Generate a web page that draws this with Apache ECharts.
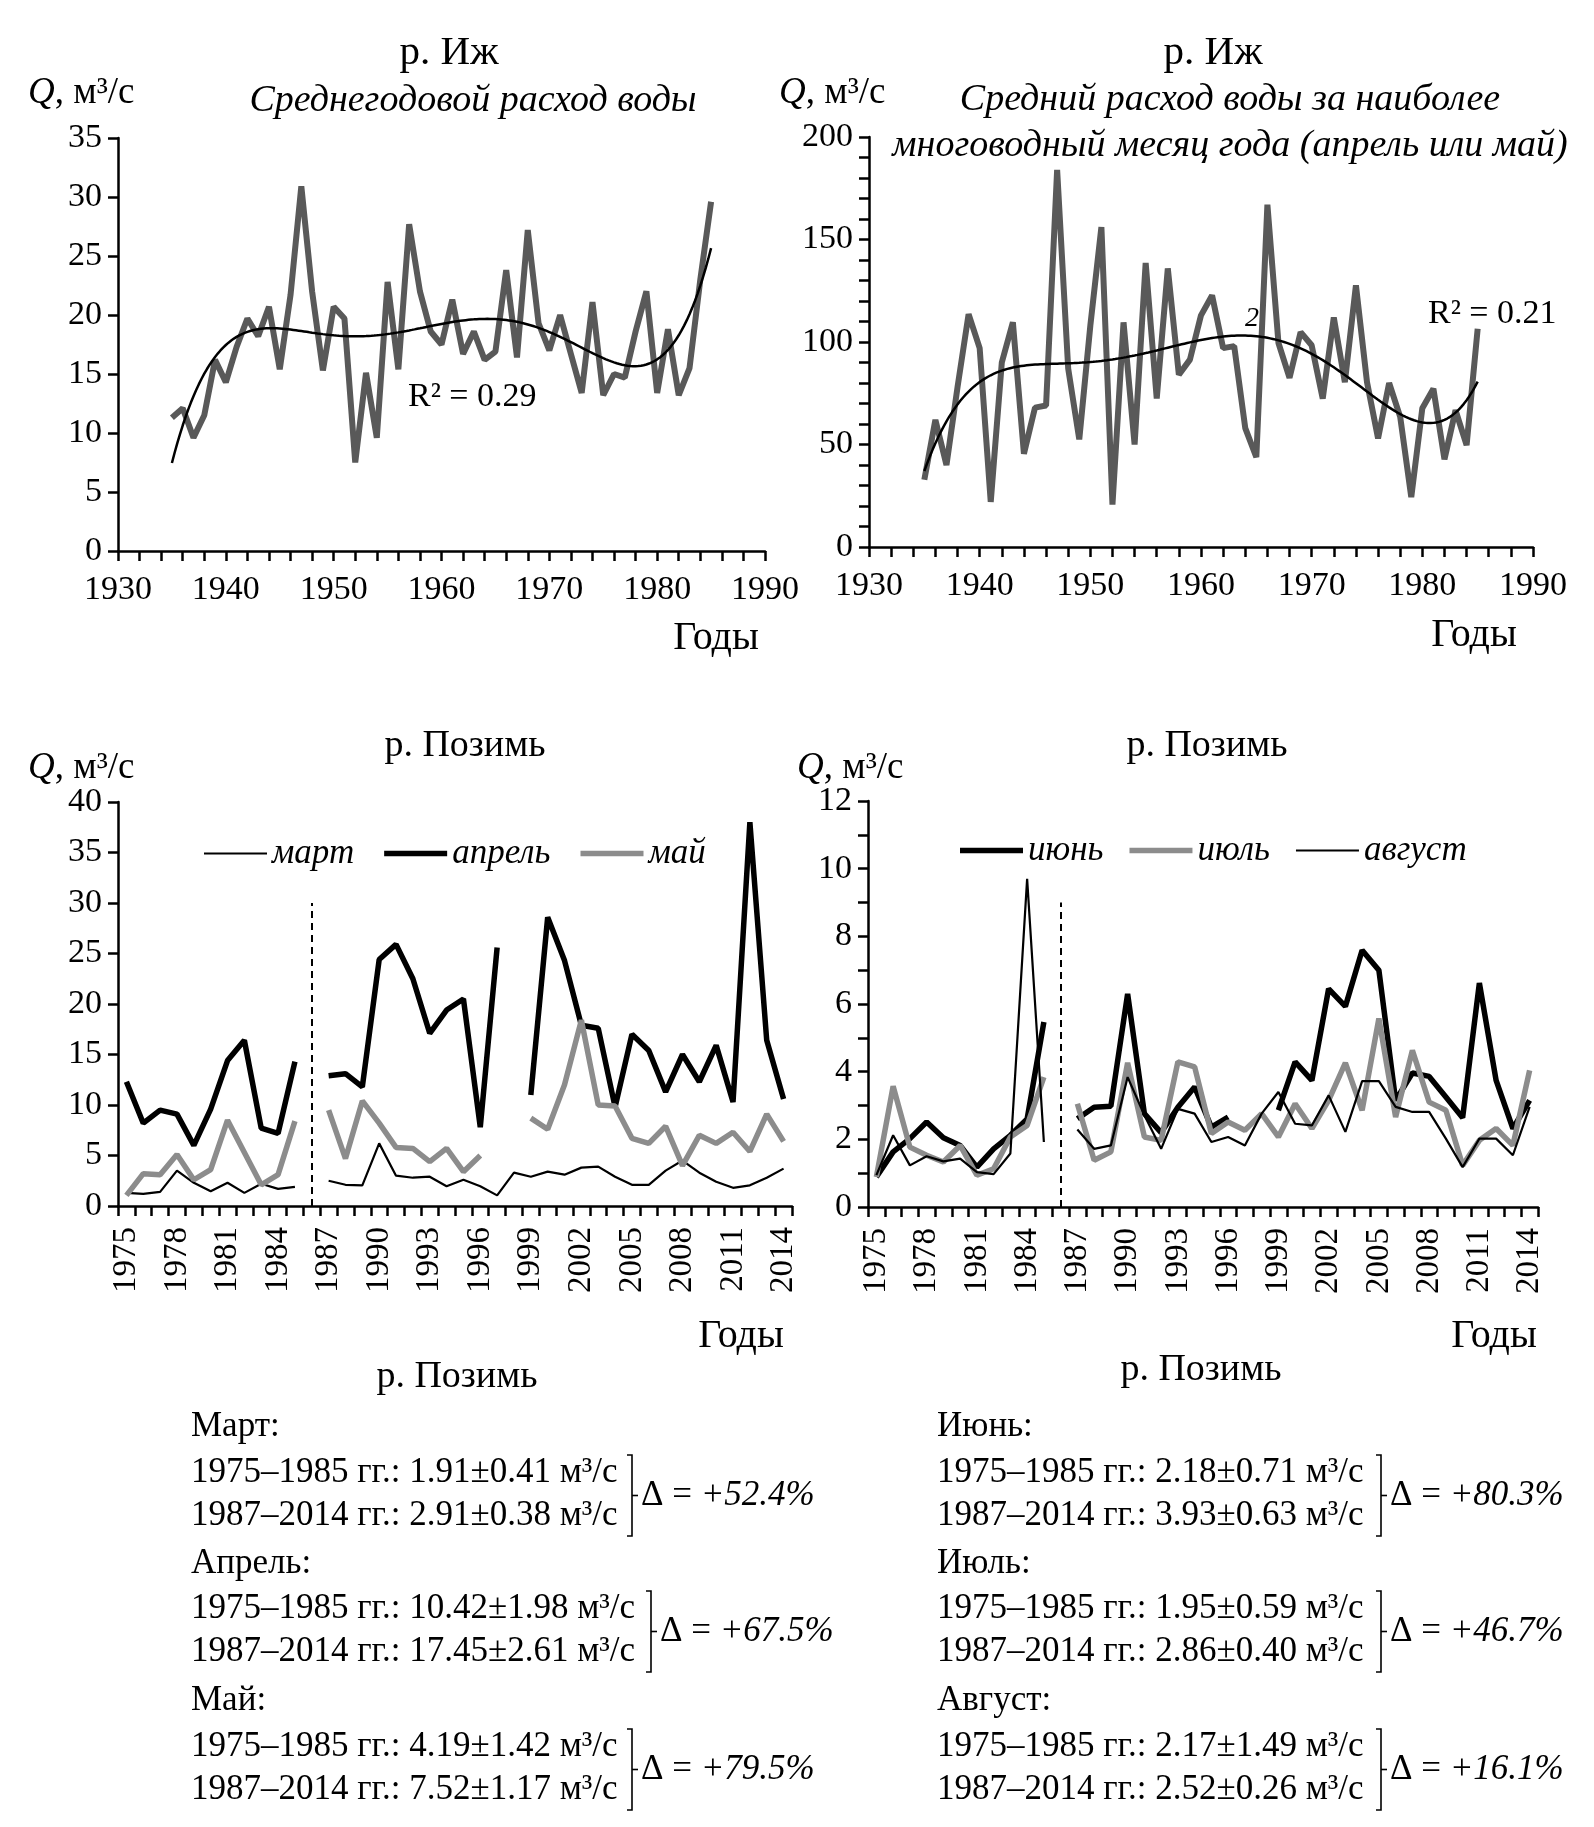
<!DOCTYPE html>
<html><head><meta charset="utf-8">
<script src="https://cdn.jsdelivr.net/npm/echarts@6/dist/echarts.min.js"></script>
<style>html,body{margin:0;padding:0;background:#fff}#c{width:1594px;height:1827px}</style>
</head><body><div id="c"></div><script>
// ---------- DATA ----------
const izhYears = [1935,1936,1937,1938,1939,1940,1941,1942,1943,1944,1945,1946,1947,1948,1949,1950,1951,1952,1953,1954,1955,1956,1957,1958,1959,1960,1961,1962,1963,1964,1965,1966,1967,1968,1969,1970,1971,1972,1973,1974,1975,1976,1977,1978,1979,1980,1981,1982,1983,1984,1985];
const izhAnnual = [11.3,12.1,9.6,11.5,16.2,14.3,17.3,19.7,18.2,20.7,15.4,21.7,30.9,22.0,15.3,20.7,19.7,7.5,15.1,9.6,22.8,15.4,27.7,22.0,18.6,17.5,21.3,16.7,18.6,16.2,16.9,23.8,16.4,27.2,19.3,17.0,20.0,16.7,13.4,21.1,13.2,15.0,14.7,18.6,22.0,13.4,18.8,13.2,15.5,23.0,29.6];
const izhMaxMonth = [32.8,62,40,78,113.6,97,22,90,109.6,45.5,68,69,184,87,52.5,108,156,20.7,109.6,50,138.6,72.4,135.9,84,91.4,113,122.7,97,98,58,43.8,167,99.5,82.5,104.8,98.4,72.4,112,80.4,127.6,80.4,53,80,63.5,24.3,67.7,77.2,42.8,66.7,49.7,106.5];

const pozYears = ['1975','1976','1977','1978','1979','1980','1981','1982','1983','1984','1985','1986','1987','1988','1989','1990','1991','1992','1993','1994','1995','1996','1997','1998','1999','2000','2001','2002','2003','2004','2005','2006','2007','2008','2009','2010','2011','2012','2013','2014'];
const mar = [1.3,1.2,1.4,3.5,2.3,1.45,2.3,1.3,2.2,1.7,1.9,null,2.5,2.1,2.05,6.2,3.0,2.8,2.9,1.95,2.6,1.95,1.05,3.3,2.9,3.4,3.1,3.8,3.9,2.9,2.1,2.1,3.5,4.5,3.3,2.4,1.8,2.05,2.8,3.7];
const apr = [12.3,8.2,9.5,9.1,6.0,9.6,14.4,16.4,7.7,7.2,14.3,null,12.9,13.1,11.8,24.4,25.9,22.5,17.1,19.4,20.5,7.8,25.6,null,11.0,28.6,24.3,17.9,17.6,9.8,17.0,15.4,11.3,15.0,12.3,15.9,10.3,38.0,16.4,10.6];
const may = [1.05,3.2,3.1,5.1,2.6,3.6,8.5,5.3,2.1,3.1,8.4,null,9.5,4.7,10.4,8.2,5.8,5.7,4.4,5.7,3.4,5.0,null,null,8.7,7.6,12.0,18.4,10.0,9.9,6.7,6.2,7.9,4.0,7.0,6.2,7.3,5.4,9.1,6.4];
const jun = [0.89,1.63,2.02,2.51,2.05,1.82,1.18,1.72,2.12,2.6,5.47,null,2.61,2.95,2.98,6.3,2.76,2.2,2.95,3.55,2.36,2.66,null,null,2.86,4.29,3.74,6.45,5.93,7.59,7.0,3.15,3.96,3.86,3.25,2.64,6.62,3.74,2.32,3.15];
const jul = [0.89,3.57,1.77,1.53,1.33,1.82,0.94,1.13,2.07,2.41,3.84,null,3.05,1.38,1.63,4.26,2.07,1.97,4.29,4.14,2.17,2.51,2.27,2.76,2.07,3.05,2.32,3.15,4.26,2.86,5.57,2.66,4.63,3.1,2.86,1.23,1.97,2.32,1.82,4.04];
const aug = [0.94,2.12,1.23,1.5,1.35,1.43,1.03,0.97,1.58,9.7,1.92,null,2.29,1.72,1.82,3.84,2.71,1.72,2.9,2.76,1.92,2.07,1.82,2.76,3.4,2.46,2.41,3.3,2.22,3.72,3.72,2.96,2.81,2.81,2.02,1.18,2.02,2.02,1.53,2.96];

const breakYear = '1986';
const leftStats = [
  ['Март:', '1975–1985 гг.: 1.91±0.41 м³/с', '1987–2014 гг.: 2.91±0.38 м³/с', '+52.4%'],
  ['Апрель:', '1975–1985 гг.: 10.42±1.98 м³/с', '1987–2014 гг.: 17.45±2.61 м³/с', '+67.5%'],
  ['Май:', '1975–1985 гг.: 4.19±1.42 м³/с', '1987–2014 гг.: 7.52±1.17 м³/с', '+79.5%']
];
const rightStats = [
  ['Июнь:', '1975–1985 гг.: 2.18±0.71 м³/с', '1987–2014 гг.: 3.93±0.63 м³/с', '+80.3%'],
  ['Июль:', '1975–1985 гг.: 1.95±0.59 м³/с', '1987–2014 гг.: 2.86±0.40 м³/с', '+46.7%'],
  ['Август:', '1975–1985 гг.: 2.17±1.49 м³/с', '1987–2014 гг.: 2.52±0.26 м³/с', '+16.1%']
];

// ---------- polynomial trend (least squares, like Excel) ----------
function polyfit(xs, ys, deg) {
  const n = deg + 1, c = 1960, s = 25;
  const M = Array.from({length: n}, () => new Array(n + 1).fill(0));
  for (let k = 0; k < xs.length; k++) {
    const t = (xs[k] - c) / s;
    const p = [];
    for (let i = 0; i < n; i++) p.push(Math.pow(t, i));
    for (let i = 0; i < n; i++) {
      for (let j = 0; j < n; j++) M[i][j] += p[i] * p[j];
      M[i][n] += p[i] * ys[k];
    }
  }
  for (let i = 0; i < n; i++) {
    let piv = i;
    for (let r = i + 1; r < n; r++) if (Math.abs(M[r][i]) > Math.abs(M[piv][i])) piv = r;
    [M[i], M[piv]] = [M[piv], M[i]];
    for (let r = 0; r < n; r++) {
      if (r === i) continue;
      const f = M[r][i] / M[i][i];
      for (let j = i; j <= n; j++) M[r][j] -= f * M[i][j];
    }
  }
  const coef = M.map((row, i) => row[n] / row[i]);
  return x => { const t = (x - c) / s; let v = 0; for (let i = n - 1; i >= 0; i--) v = v * t + coef[i]; return v; };
}
function trendPoints(xs, ys, deg) {
  const f = polyfit(xs, ys, deg), out = [];
  for (let x = xs[0]; x <= xs[xs.length - 1] + 1e-9; x += 0.25) out.push([x, f(x)]);
  return out;
}
const pair = (xs, ys) => xs.map((x, i) => [x, ys[i]]);

// ---------- styles ----------
const FF = "'Liberation Serif', 'Times New Roman', serif";
const BLK = '#000';
const GRAY = '#8c8c8c';
const axisLine = {show: true, lineStyle: {color: BLK, width: 2.5}};
const tick = {show: true, length: 10, lineStyle: {color: BLK, width: 2.5}};
const lbl = (size, extra) => Object.assign({color: BLK, fontFamily: FF, fontSize: size}, extra || {});

function valX(grid) {
  return {type: 'value', gridIndex: grid, min: 1930, max: 1990, interval: 10,
    axisLine, axisTick: tick, minorTick: {show: true, splitNumber: 5, length: 10, lineStyle: {color: BLK, width: 2.5}},
    axisLabel: lbl(34, {margin: 22, formatter: v => String(v)}), splitLine: {show: false}, minorSplitLine: {show: false}};
}
function valY(grid, max, interval, minor) {
  return {type: 'value', gridIndex: grid, min: 0, max, interval,
    axisLine, axisTick: tick,
    minorTick: {show: !!minor, splitNumber: minor || 5, length: 10, lineStyle: {color: BLK, width: 2.5}},
    axisLabel: lbl(34, {margin: 16}), splitLine: {show: false}, minorSplitLine: {show: false}};
}
function catX(grid) {
  return {type: 'category', gridIndex: grid, data: pozYears, boundaryGap: true,
    axisLine, axisTick: {show: true, interval: 0, length: 10, lineStyle: {color: BLK, width: 2.5}},
    axisLabel: lbl(33, {interval: 2, rotate: 90, margin: 21}), splitLine: {show: false}};
}
function line(name, x, y, data, color, width, extra) {
  return Object.assign({name, type: 'line', xAxisIndex: x, yAxisIndex: y, data, symbol: 'none',
    connectNulls: false, lineStyle: {color, width}, itemStyle: {color}, animation: false}, extra || {});
}
const dashMark = (top) => ({symbol: 'none', silent: true, label: {show: false},
  lineStyle: {color: BLK, type: [7, 5], width: 2},
  data: [[{coord: [breakYear, 0]}, {coord: [breakYear, top]}]]});
const THICK_ICON = 'path://M0,0H63V5.5H0Z';
const THIN_ICON = 'path://M0,0H63V2.2H0Z';

// ---------- graphic texts ----------
const g = [];
function txt(x, y, text, opt) {
  opt = opt || {};
  const size = opt.size || 34;
  g.push({type: 'text', x, y, style: {text, fill: BLK, font: (opt.italic ? 'italic ' : '') + size + 'px ' + FF,
    textAlign: opt.align || 'left', textVerticalAlign: 'middle',
    rich: {i: {fontStyle: 'italic', fontFamily: FF, fontSize: size}}}});
}
txt(449, 53, 'р. Иж', {align: 'center', size: 41});
txt(28, 93, '{i|Q}, м³/с', {size: 37});
txt(473, 101, 'Среднегодовой расход воды', {italic: true, align: 'center', size: 38});
txt(716, 638, 'Годы', {align: 'center', size: 40});
txt(408, 397, 'R² = 0.29');

txt(1213, 53, 'р. Иж', {align: 'center', size: 41});
txt(779, 93, '{i|Q}, м³/с', {size: 37});
txt(1230, 100, 'Средний расход воды за наиболее', {italic: true, align: 'center', size: 38});
txt(1230, 146, 'многоводный месяц года (апрель или май)', {italic: true, align: 'center', size: 38});
txt(1428, 314, 'R² = 0.21');
txt(1245, 319, '2', {italic: true, size: 28});
txt(1474, 635, 'Годы', {align: 'center', size: 40});

txt(465, 746, 'р. Позимь', {align: 'center', size: 38});
txt(28, 768, '{i|Q}, м³/с', {size: 37});
txt(741, 1336, 'Годы', {align: 'center', size: 40});
txt(1207, 746, 'р. Позимь', {align: 'center', size: 38});
txt(797, 768, '{i|Q}, м³/с', {size: 37});
txt(1494, 1336, 'Годы', {align: 'center', size: 40});

txt(457, 1377, 'р. Позимь', {align: 'center', size: 38});
txt(1201, 1370, 'р. Позимь', {align: 'center', size: 38});

function statBlock(x0, stats, brX) {
  const rowY = [[1427, 1473, 1516], [1564, 1609, 1652], [1701, 1747, 1790]];
  stats.forEach((s, k) => {
    const [yh, y1, y2] = rowY[k];
    txt(x0, yh, s[0], {size: 35});
    txt(x0, y1, s[1], {size: 35});
    txt(x0, y2, s[2], {size: 35});
    const bx = brX[k];
    const top = y1 - 18, bot = y2 + 20, mid = (top + bot) / 2;
    g.push({type: 'polyline', shape: {points: [[bx - 5, top], [bx, top], [bx, bot], [bx - 5, bot]]}, style: {stroke: BLK, lineWidth: 1.6, fill: null}});
    g.push({type: 'line', shape: {x1: bx, y1: mid, x2: bx + 6, y2: mid}, style: {stroke: BLK, lineWidth: 1.6}});
    txt(bx + 9, mid, 'Δ = {i|' + s[3] + '}', {size: 35});
  });
}
statBlock(191, leftStats, [632, 651, 632]);
statBlock(937, rightStats, [1381, 1381, 1381]);

// ---------- chart ----------
const chart = echarts.init(document.getElementById('c'), null, {renderer: 'canvas'});
chart.setOption({
  backgroundColor: '#fff',
  animation: false,
  textStyle: {fontFamily: FF, color: BLK},
  grid: [
    {left: 118, top: 138, width: 647, height: 413},
    {left: 869, top: 137, width: 664, height: 410},
    {left: 118, top: 802, width: 674, height: 404},
    {left: 868, top: 801, width: 670, height: 406}
  ],
  xAxis: [valX(0), valX(1), catX(2), catX(3)],
  yAxis: [valY(0, 35, 5, 0), valY(1, 200, 50, 5), valY(2, 40, 5, 0), valY(3, 12, 2, 2)],
  legend: [
    {data: [{name: 'март', icon: THIN_ICON}, {name: 'апрель', icon: THICK_ICON}, {name: 'май', icon: THICK_ICON}],
     left: 199, top: 831, itemWidth: 63, itemHeight: 14, itemGap: 30, symbolKeepAspect: true,
     textStyle: lbl(35, {fontStyle: 'italic'})},
    {data: [{name: 'июнь', icon: THICK_ICON}, {name: 'июль', icon: THICK_ICON}, {name: 'август', icon: THIN_ICON}],
     left: 955, top: 828, itemWidth: 63, itemHeight: 14, itemGap: 26, symbolKeepAspect: true,
     textStyle: lbl(35, {fontStyle: 'italic'})}
  ],
  series: [
    line('izh1', 0, 0, pair(izhYears, izhAnnual), '#595959', 6),
    line('trend1', 0, 0, trendPoints(izhYears, izhAnnual, 5), BLK, 2.5, {z: 3}),
    line('izh2', 1, 1, pair(izhYears, izhMaxMonth), '#595959', 6),
    line('trend2', 1, 1, trendPoints(izhYears, izhMaxMonth, 5), BLK, 2.5, {z: 3}),
    line('март', 2, 2, mar, BLK, 2.2, {markLine: dashMark(30)}),
    line('апрель', 2, 2, apr, BLK, 5.5),
    line('май', 2, 2, may, GRAY, 5.5),
    line('июнь', 3, 3, jun, BLK, 5.5, {markLine: dashMark(9)}),
    line('июль', 3, 3, jul, GRAY, 5.5),
    line('август', 3, 3, aug, BLK, 2.2)
  ],
  graphic: g
});
</script></body></html>
